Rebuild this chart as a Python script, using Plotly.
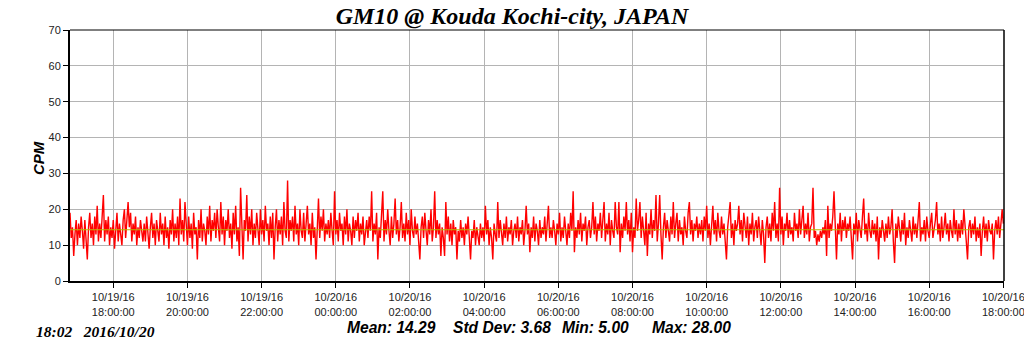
import pandas as pd
import plotly.graph_objects as go

TITLE = "GM10 @ Kouda Kochi-city, JAPAN"
Y_LABEL = "CPM"
STAMP = "18:02\u00a0\u00a0\u00a02016/10/20"
STATS = ["Mean: 14.29", "Std Dev: 3.68", "Min: 5.00", "Max: 28.00"]
MEAN_CPM = 14.29
START = "2016-10-19 16:50"
X_END = "2016-10-20 18:01"
TICK_START = "2016-10-19 18:00"
TICK_END = "2016-10-20 18:00"
Y_TICKS = [0, 10, 20, 30, 40, 50, 60, 70]

# two-minute counts, one list per hour starting 16:50 on 10/19
c00 = [19,12,15,7,13,17,10,16,12,18, 14,9,17,11,6,15,19,12,16,10, 18,13,21,11,16,12,19,24,11,17]
c01 = [13,18,10,15,12,17,9,14,19,11, 16,13,10,17,20,12,18,22,15,19, 11,16,13,18,10,15,12,17,14,11]
c02 = [16,11,18,13,9,15,19,12,16,10, 17,14,11,19,13,16,10,18,12,15, 9,17,13,20,11,16,12,18,10,23]
c03 = [13,17,11,22,14,10,18,12,16,9, 19,13,15,6,17,12,20,11,16,14, 10,18,13,21,11,17,14,19,12,20]
c04 = [15,11,22,13,18,10,17,14,20,12, 16,9,19,13,21,11,15,7,26,12, 6,17,14,24,11,18,13,20,10,16]
c05 = [12,19,14,10,20,13,17,11,21,14, 16,10,18,12,19,6,15,20,11,17, 13,18,10,22,14,12,28,11,17,14]
c06 = [18,11,21,13,16,10,20,14,12,19, 11,17,21,13,16,10,19,12,15,6, 17,23,12,18,14,20,11,16,13,17]
c07 = [12,19,14,10,25,13,17,11,19,14, 16,10,18,13,20,11,16,14,10,18, 12,17,14,19,11,16,13,18,10,15]
c08 = [17,12,18,14,25,11,16,13,19,6, 15,12,18,25,11,17,13,20,14,10, 18,12,16,23,13,17,11,15,22,12]
c09 = [16,11,19,13,17,10,20,14,12,18, 13,16,11,6,15,18,12,19,14,10, 17,13,20,11,15,25,12,17,13,16]
c10 = [7,15,12,7,22,13,18,11,16,10, 17,13,15,6,14,11,17,12,15,10, 16,13,18,11,6,14,12,17,10,15]
c11 = [13,10,16,12,15,11,21,13,17,10, 15,12,6,16,13,11,22,12,17,14, 10,16,12,18,11,15,13,17,10,14]
c12 = [16,12,18,11,15,13,17,10,14,21, 13,16,8,15,12,18,11,16,14,10, 17,12,15,13,18,11,16,21,12,15]
c13 = [12,17,14,10,16,13,19,11,15,12, 18,13,10,16,12,19,14,25,8,15, 12,17,13,19,11,16,14,18,10,15]
c14 = [17,12,15,22,13,18,11,16,14,19, 12,17,22,11,16,13,19,10,17,14, 12,22,15,13,22,8,16,12,18,14]
c15 = [22,13,17,11,19,8,15,12,23,14, 17,22,12,18,14,10,19,7,16,13, 20,12,17,14,24,11,16,24,13,6]
c16 = [15,19,12,17,14,11,18,13,22,12, 16,19,11,17,13,15,10,18,14,12, 19,22,13,17,11,16,14,18,12,16]
c17 = [13,17,11,18,14,21,12,16,10,15, 21,13,17,11,19,14,12,18,13,16, 11,6,15,18,22,12,16,10,17,14]
c18 = [16,21,13,17,11,19,14,12,18,10, 16,13,19,11,15,17,12,18,14,10, 17,13,5,15,18,12,16,11,19,14]
c19 = [22,12,16,11,26,13,18,10,16,14, 19,12,17,13,15,11,19,14,16,12, 20,13,17,21,12,16,13,19,11,15]
c20 = [16,26,12,14,10,13,11,14,12,15, 13,17,7,21,12,16,14,18,25,12, 6,16,13,19,11,17,14,18,12,16]
c21 = [14,18,12,6,16,13,19,11,17,14, 12,18,23,13,16,11,19,14,12,17, 13,16,11,18,6,15,12,17,14,11]
c22 = [16,12,18,13,15,20,11,5,16,12, 18,14,11,17,13,19,10,15,12,17, 14,11,18,13,16,12,17,22,11,15]
c23 = [13,17,11,18,14,12,16,19,12,15, 17,22,13,16,11,18,12,15,19,13, 16,11,17,14,12,20,13,17,11,16]
c24 = [12,17,13,20,14,11,6,15,17,12, 16,13,18,11,15,12,16,7,14,18, 12,16,11,17,14,13,16,6,14,17]
c25 = [13,18,12,17,20,16]

cpm = (c00 + c01 + c02 + c03 + c04 + c05 + c06 + c07 + c08 + c09 + c10 + c11 + c12
       + c13 + c14 + c15 + c16 + c17 + c18 + c19 + c20 + c21 + c22 + c23 + c24 + c25)
times = pd.date_range(START, periods=len(cpm), freq="2min")

tick_times = pd.date_range(TICK_START, TICK_END, freq="2h")
tick_text = [t.strftime("%m/%d/%y<br>%H:%M:%S") for t in tick_times]

W, H = 1024, 351
L, R, T, B = 70, 20, 30, 70
PW = W - L - R
PH = H - T - B

def px(xp):
    return (xp - L) / PW

def py(yp):
    return (H - B - yp) / PH

fig = go.Figure()
fig.add_trace(go.Scatter(x=times, y=cpm, mode="lines",
                         line=dict(color="#ff0000", width=1.4), hoverinfo="skip"))

fig.add_shape(type="line", xref="paper", x0=0, x1=1, yref="y", y0=MEAN_CPM, y1=MEAN_CPM,
              line=dict(color="#b8b800", width=1), layer="above")
fig.add_shape(type="line", xref="paper", yref="paper", x0=0, x1=1, y0=1, y1=1,
              line=dict(color="black", width=1), layer="above")
fig.add_shape(type="line", xref="paper", yref="paper", x0=1, x1=1, y0=0, y1=1,
              line=dict(color="black", width=1.5), layer="above")

tick_font = dict(family="Arial, Liberation Sans", size=11, color="#222")
fig.update_layout(
    width=W, height=H, margin=dict(l=L, r=R, t=T, b=B, autoexpand=False),
    paper_bgcolor="white", plot_bgcolor="white", showlegend=False,
    title=dict(text=TITLE, xref="container", x=0.5, xanchor="center",
               yref="container", y=1 - 16 / H, yanchor="middle",
               font=dict(family="Liberation Serif, Times New Roman", size=24,
                         color="black", weight="bold", style="italic")),
    xaxis=dict(type="date", range=[START, X_END], tickmode="array",
               tickvals=tick_times, ticktext=tick_text, ticks="outside", ticklen=5,
               tickcolor="black", showgrid=True, gridcolor="#b4b4b4", gridwidth=1,
               showline=True, linecolor="black", linewidth=2, zeroline=False,
               tickfont=tick_font, ticklabeloverflow="allow", automargin=False),
    yaxis=dict(range=[0, 70], tickmode="array", tickvals=Y_TICKS, ticks="outside",
               ticklen=5, tickcolor="black", showgrid=True, gridcolor="#b4b4b4",
               gridwidth=1, showline=True, linecolor="black", linewidth=2,
               zeroline=False, tickfont=tick_font, automargin=False),
)

ann = []
ann.append(dict(text=Y_LABEL, xref="paper", yref="paper", x=px(38), y=py(158),
                xanchor="center", yanchor="middle", textangle=-90, showarrow=False,
                font=dict(family="Arial, Liberation Sans", size=15, color="black",
                          weight="bold", style="italic")))
ann.append(dict(text=STAMP, xref="paper", yref="paper", x=px(34), y=py(331),
                xanchor="left", yanchor="middle", showarrow=False,
                font=dict(family="Liberation Serif, Times New Roman", size=15.5,
                          color="black", weight="bold", style="italic")))
stat_x = [345, 451, 560, 650]
for s, xp in zip(STATS, stat_x):
    ann.append(dict(text=s, xref="paper", yref="paper", x=px(xp), y=py(327),
                    xanchor="left", yanchor="middle", showarrow=False,
                    font=dict(family="Arial, Liberation Sans", size=15.6, color="black",
                              weight="bold", style="italic")))
fig.update_layout(annotations=ann)

fig.write_html("out.html")
